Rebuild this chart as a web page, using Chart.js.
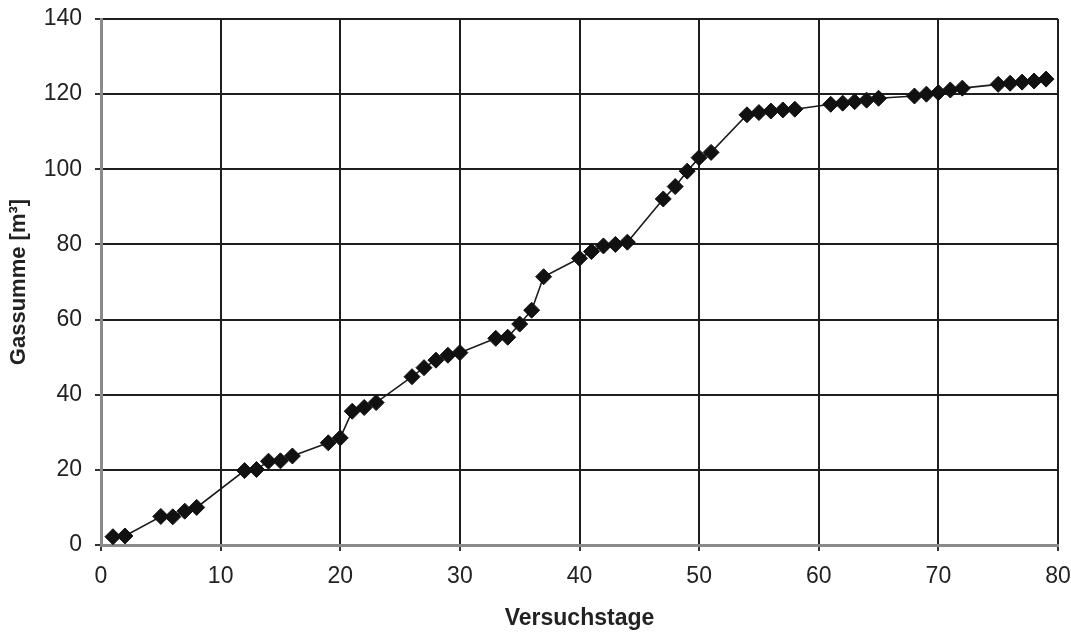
<!DOCTYPE html>
<html lang="de">
<head>
  <meta charset="UTF-8" />
  <title>Gassumme</title>
  <script src="https://cdn.jsdelivr.net/npm/chart.js"></script>
  <style>
    html, body {
      margin: 0;
      padding: 0;
      background: #fff;
    }

    #wrap {
      width: 1071px;
      height: 633px;
    }
  </style>
</head>
<body>

  <div id="wrap"><canvas id="gasChart" width="1071" height="633"></canvas></div>

  <script>
    // Versuchstage and cumulative gas volume
    const days = [
      1, 2, 5, 6, 7, 8, 12, 13, 14, 15, 16, 19, 20, 21, 22, 23,
      26, 27, 28, 29, 30, 33, 34, 35, 36, 37, 40, 41, 42, 43, 44,
      47, 48, 49, 50, 51, 54, 55, 56, 57, 58, 61, 62, 63, 64, 65,
      68, 69, 70, 71, 72, 75, 76, 77, 78, 79
    ];
    const gasSum = [
      2.2, 2.4, 7.6, 7.5, 9.0, 10.0, 19.8, 20.1, 22.3, 22.4, 23.7, 27.2, 28.5, 35.6, 36.6, 37.9,
      44.8, 47.2, 49.2, 50.5, 51.2, 55.0, 55.3, 58.8, 62.5, 71.4, 76.3, 78.1, 79.6, 80.0, 80.6,
      92.1, 95.4, 99.5, 103.1, 104.5, 114.5, 115.1, 115.5, 115.8, 116.0, 117.3, 117.6, 118.0, 118.4, 118.9,
      119.5, 120.0, 120.4, 121.1, 121.6, 122.6, 122.9, 123.2, 123.5, 124.0
    ];
    const xTicks = [0, 10, 20, 30, 40, 50, 60, 70, 80];
    const yTicks = [0, 20, 40, 60, 80, 100, 120, 140];

    const points = days.map((d, i) => ({ x: d, y: gasSum[i] }));

    const fontFamily = "'Liberation Sans', Arial, sans-serif";

    // end labels may hang over the plot edge, so the scales ask for no extra room
    function noOverhang(scale) {
      scale.paddingTop = 0;
      scale.paddingBottom = 0;
      scale.paddingLeft = 0;
      scale.paddingRight = 0;
    }

    new Chart(document.getElementById("gasChart"), {
      type: "scatter",
      data: {
        datasets: [{
          data: points,
          showLine: true,
          borderColor: "#1a1a1a",
          borderWidth: 1.6,
          pointStyle: "rectRot",
          pointRadius: 8,
          pointHoverRadius: 8,
          pointBackgroundColor: "#111",
          pointBorderColor: "#111",
          pointBorderWidth: 1
        }]
      },
      options: {
        responsive: false,
        animation: false,
        layout: {
          padding: { top: 19, right: 13, left: 0, bottom: 0 }
        },
        plugins: {
          legend: { display: false },
          tooltip: { enabled: false }
        },
        scales: {
          x: {
            type: "linear",
            min: 0,
            max: 80,
            afterBuildTicks: scale => {
              scale.ticks = xTicks.map(v => ({ value: v }));
            },
            afterFit: scale => {
              scale.height = 88;
              noOverhang(scale);
            },
            grid: {
              color: "#1e1e1e",
              lineWidth: 2,
              tickLength: 6,
              tickColor: "#333"
            },
            border: { color: "#8a8a8a", width: 3 },
            ticks: {
              color: "#222",
              padding: 12,
              font: { family: fontFamily, size: 23 }
            },
            title: {
              display: true,
              text: "Versuchstage",
              color: "#222",
              font: { family: fontFamily, size: 23, weight: "bold" },
              padding: { top: 4, bottom: 1 }
            }
          },
          y: {
            type: "linear",
            min: 0,
            max: 140,
            afterBuildTicks: scale => {
              scale.ticks = yTicks.map(v => ({ value: v }));
            },
            afterFit: scale => {
              scale.width = 101;
              noOverhang(scale);
            },
            grid: {
              color: "#1e1e1e",
              lineWidth: 2,
              tickLength: 6,
              tickColor: "#333"
            },
            border: { color: "#8a8a8a", width: 3 },
            ticks: {
              color: "#222",
              padding: 13,
              font: { family: fontFamily, size: 23 }
            },
            title: {
              display: true,
              text: "Gassumme [m³]",
              color: "#222",
              font: { family: fontFamily, size: 22, weight: "bold" },
              padding: { top: 6, bottom: 0 }
            }
          }
        }
      }
    });
  </script>

</body>
</html>
